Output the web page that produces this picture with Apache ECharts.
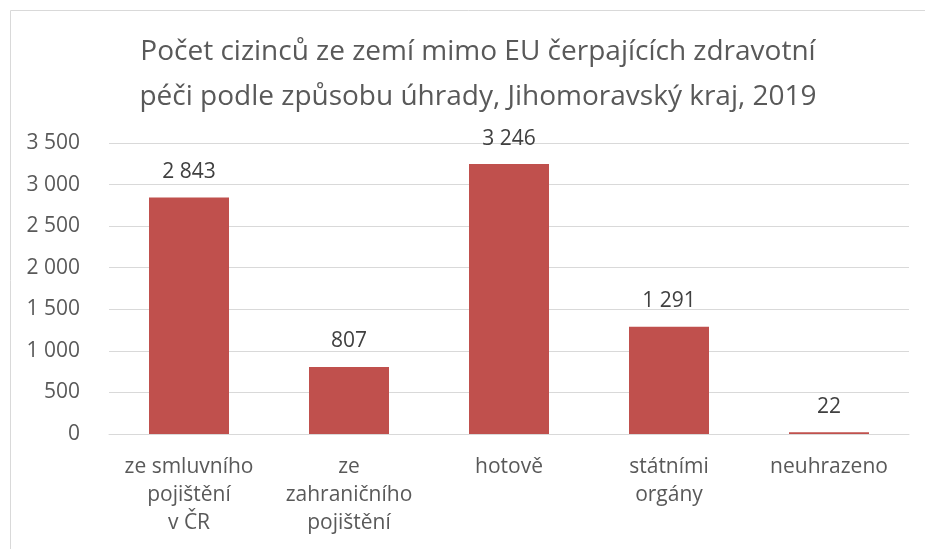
<!DOCTYPE html>
<html>
<head>
<meta charset="utf-8">
<script src="https://cdn.jsdelivr.net/npm/echarts@6/dist/echarts.min.js"></script>
<style>
  html, body { margin: 0; padding: 0; background: #fff; }
  #chart { width: 925px; height: 549px; }
</style>
</head>
<body>
<div id="chart"></div>
<script>
// data
var categories = ['ze smluvního\npojištění\nv ČR', 'ze\nzahraničního\npojištění', 'hotově', 'státními\norgány', 'neuhrazeno'];
var values = [2843, 807, 3246, 1291, 22];
var titleText = 'Počet cizinců ze zemí mimo EU čerpajících zdravotní\npéči podle způsobu úhrady, Jihomoravský kraj, 2019';

var font = '"Open Sans", sans-serif';

// mezera jako oddělovač tisíců
function fmt(v) {
  return String(v).replace(/\B(?=(\d{3})+(?!\d))/g, ' ');
}

var chart = echarts.init(document.getElementById('chart'));
chart.setOption({
  animation: false,
  graphic: [{
    type: 'rect',
    shape: { x: 10.5, y: 10.5, width: 930, height: 560 },
    style: { fill: 'none', stroke: '#d9d9d9', lineWidth: 1 },
    silent: true
  }],
  title: {
    text: titleText,
    left: 473,
    top: 25,
    textAlign: 'center',
    textStyle: {
      fontFamily: font,
      fontSize: 28,
      fontWeight: 'normal',
      color: '#595959',
      lineHeight: 45,
      align: 'center'
    }
  },
  grid: { left: 109, right: 16, top: 143, bottom: 115 },
  xAxis: {
    type: 'category',
    data: categories,
    axisTick: { show: false },
    axisLine: { lineStyle: { color: '#d9d9d9', width: 1 } },
    axisLabel: {
      color: '#595959',
      fontFamily: font,
      fontSize: 21,
      lineHeight: 28,
      margin: 19,
      interval: 0
    }
  },
  yAxis: {
    type: 'value',
    min: 0,
    max: 3500,
    interval: 500,
    axisLine: { show: false },
    axisTick: { show: false },
    splitLine: { lineStyle: { color: '#d9d9d9' } },
    axisLabel: {
      color: '#595959',
      fontFamily: font,
      fontSize: 21,
      margin: 29,
      formatter: fmt
    }
  },
  series: [{
    type: 'bar',
    data: values,
    barWidth: '50%',
    itemStyle: { color: '#c0504d' },
    label: {
      show: true,
      position: 'top',
      distance: 15,
      color: '#404040',
      fontFamily: font,
      fontSize: 21,
      formatter: function (p) { return fmt(p.value); }
    }
  }]
});
</script>
</body>
</html>
